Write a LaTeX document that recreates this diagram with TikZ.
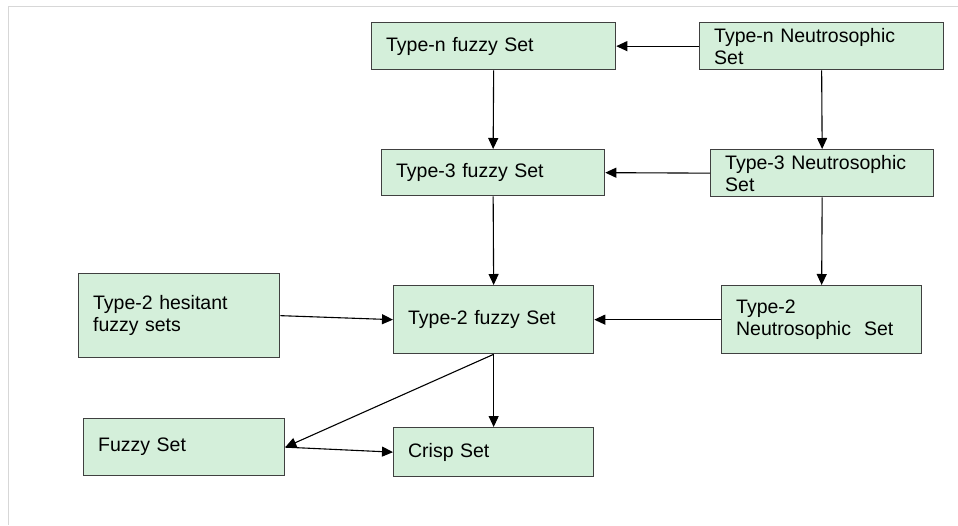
\documentclass[tikz,border=0pt]{standalone}
\usepackage{fontspec}
\setmainfont{Liberation Sans}
\usetikzlibrary{arrows.meta}
\definecolor{boxfill}{RGB}{212,239,218}
\definecolor{boxline}{RGB}{64,64,64}
\definecolor{framegray}{RGB}{215,215,215}
\tikzset{
  setbox/.style={draw=boxline, fill=boxfill, line width=1.3pt, anchor=north west,
    inner xsep=14.5pt, inner ysep=0pt, align=left,
    font=\fontsize{19.5}{21.8}\selectfont},
  link/.style={draw=black, line width=1.1pt, -{Triangle[length=11pt,width=10pt]}},
}
\newcommand{\setnode}[6]{% name, x, y, w, h, text
  \node[setbox, minimum width=#4pt, minimum height=#5pt, text width=\dimexpr#4pt-29pt\relax] (#1) at (#2,#3) {#6};}
\begin{document}
\begin{tikzpicture}[x=1pt,y=-1pt]
\useasboundingbox (0,0) rectangle (958,525);
\draw[framegray, line width=1pt] (958,6) -- (8,6) -- (8,525);
\setnode{tnf}{371}{22}{244}{47}{Type-n fuzzy Set}
\setnode{tnn}{699}{22}{244}{47}{Type-n Neutrosophic\\Set}
\setnode{t3f}{381}{149}{223}{46}{Type-3 fuzzy Set}
\setnode{t3n}{710}{149}{223}{47}{Type-3 Neutrosophic\\Set}
\setnode{hes}{78}{273}{201}{84}{Type-2 hesitant\\fuzzy sets}
\setnode{t2f}{393}{285}{200}{68}{Type-2 fuzzy Set}
\setnode{t2n}{721}{285}{200}{68}{Type-2\\Neutrosophic\ \ Set}
\setnode{fz}{83}{418}{201}{57}{Fuzzy Set}
\setnode{cr}{393}{427}{200}{49}{Crisp Set}
\draw[link] (tnn.west) -- (tnf.east);
\draw[link] (t3n.west) -- (t3f.east);
\draw[link] (t2n.west) -- (t2f.east);
\draw[link] (tnf.south) -- (t3f.north);
\draw[link] (t3f.south) -- (t2f.north);
\draw[link] (tnn.south) -- (t3n.north);
\draw[link] (t3n.south) -- (t2n.north);
\draw[link] (hes.east) -- (t2f.west);
\draw[link] (t2f.south) -- (cr.north);
\draw[link] (t2f.south) -- (fz.east);
\draw[link] (fz.east) -- (cr.west);
\end{tikzpicture}
\end{document}
